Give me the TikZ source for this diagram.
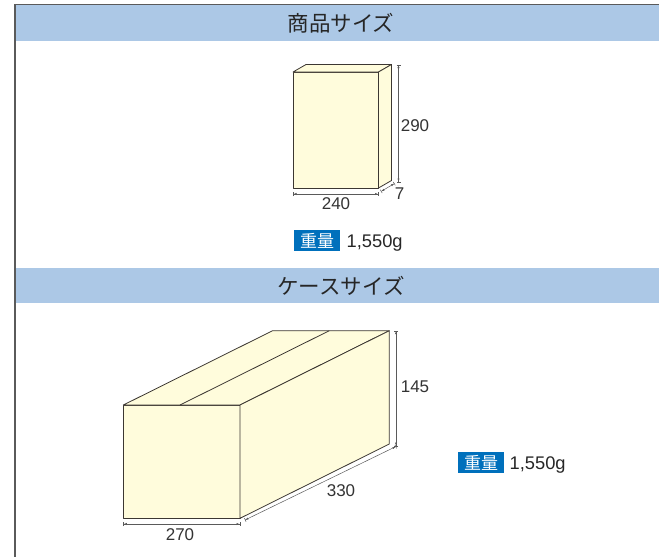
\documentclass[tikz,border=0pt]{standalone}
\usepackage{fontspec}
\setmainfont{Liberation Sans}
\newfontfamily\jp{Noto Sans CJK JP}
\usetikzlibrary{arrows.meta}
\definecolor{hdrblue}{RGB}{172,200,230}
\definecolor{tagblue}{RGB}{0,112,188}
\definecolor{cream}{RGB}{255,252,220}
\definecolor{edge}{RGB}{60,55,50}
\definecolor{dimgray}{RGB}{90,90,90}
\begin{document}
\begin{tikzpicture}[x=1pt,y=-1pt,
  header/.style={fill=hdrblue,draw=none},
  htext/.style={font=\jp\fontsize{21.5}{23}\selectfont,text=black!85,inner sep=0pt},
  face/.style={fill=cream,draw=edge,line width=0.8pt,line join=round},
  dimline/.style={draw=dimgray,line width=0.5pt,{Bar[width=4pt]Latex[length=3pt,width=2.2pt]}-{Latex[length=3pt,width=2.2pt]Bar[width=4pt]}},
  dimtext/.style={font=\fontsize{17}{19}\selectfont,text=black!80,inner sep=0pt},
  tag/.style={fill=tagblue,text=white,font=\jp\fontsize{17}{19}\selectfont,inner sep=0pt,minimum width=46pt,minimum height=21.5pt},
  wtext/.style={font=\fontsize{18.3}{20}\selectfont,text=black!85,inner sep=0pt,anchor=base west}]
\useasboundingbox (0,0) rectangle (659,557);
% frame
\draw[dimgray,line width=1.5pt] (15,557) -- (15,4.5) -- (659,4.5);
% headers
\fill[header] (16,5.3) rectangle (659,41);
\node[htext] (h1) at (341,23) {商品サイズ};
\fill[header] (16,268) rectangle (659,303);
\node[htext] (h2) at (341,286) {ケースサイズ};
% product box
\coordinate (pA) at (293,188);
\coordinate (pB) at (378.5,188);
\coordinate (pC) at (378.5,72);
\coordinate (pD) at (293,72);
\coordinate (pE) at (306,64.5);
\coordinate (pF) at (391.5,64.5);
\coordinate (pG) at (391.5,180.5);
\draw[face] (pA) -- (pB) -- (pC) -- (pD) -- cycle;
\draw[face] (pD) -- (pC) -- (pF) -- (pE) -- cycle;
\draw[face] (pB) -- (pG) -- (pF) -- (pC) -- cycle;
% product dimensions
\coordinate (d290a) at (398.5,64.5);
\coordinate (d290b) at (398.5,182);
\draw[dimline] (d290a) -- (d290b);
\node[dimtext] (t290) at (415,126) {290};
\coordinate (d240a) at (293,194);
\coordinate (d240b) at (378.5,194);
\draw[dimline] (d240a) -- (d240b);
\node[dimtext] (t240) at (336,204) {240};
\coordinate (d7a) at (381,191.5);
\coordinate (d7b) at (394.5,183.5);
\draw[dimline] (d7a) -- (d7b);
\node[dimtext] (t7) at (399.5,194) {7};
% weight 1
\node[tag] (tag1) at (317,240.5) {重量};
\node[wtext] (w1) at (346.5,247.5) {1,550g};
% case box
\coordinate (cA) at (123.3,518.3);
\coordinate (cB) at (240,518.3);
\coordinate (cC) at (240,405);
\coordinate (cD) at (123.3,405);
\coordinate (cE) at (272.6,330.7);
\coordinate (cF) at (389.3,330.7);
\coordinate (cG) at (389.3,444);
\coordinate (cT1) at (180,405);
\coordinate (cT2) at (329.3,330.7);
\draw[face] (cA) -- (cB) -- (cC) -- (cD) -- cycle;
\draw[face] (cD) -- (cC) -- (cF) -- (cE) -- cycle;
\draw[face] (cB) -- (cG) -- (cF) -- (cC) -- cycle;
\draw[edge,line width=0.8pt] (cT1) -- (cT2);
% case dimensions
\coordinate (d145a) at (396,330.7);
\coordinate (d145b) at (396,446);
\draw[dimline] (d145a) -- (d145b);
\node[dimtext] (t145) at (415,387) {145};
\coordinate (d270a) at (123.3,524);
\coordinate (d270b) at (240,524);
\draw[dimline] (d270a) -- (d270b);
\node[dimtext] (t270) at (180,535) {270};
\coordinate (d330a) at (245,520);
\coordinate (d330b) at (396,446.5);
\draw[dimline] (d330a) -- (d330b);
\node[dimtext] (t330) at (341,491) {330};
% weight 2
\node[tag] (tag2) at (481,462.7) {重量};
\node[wtext] (w2) at (509.5,469.5) {1,550g};
\end{tikzpicture}
\end{document}
